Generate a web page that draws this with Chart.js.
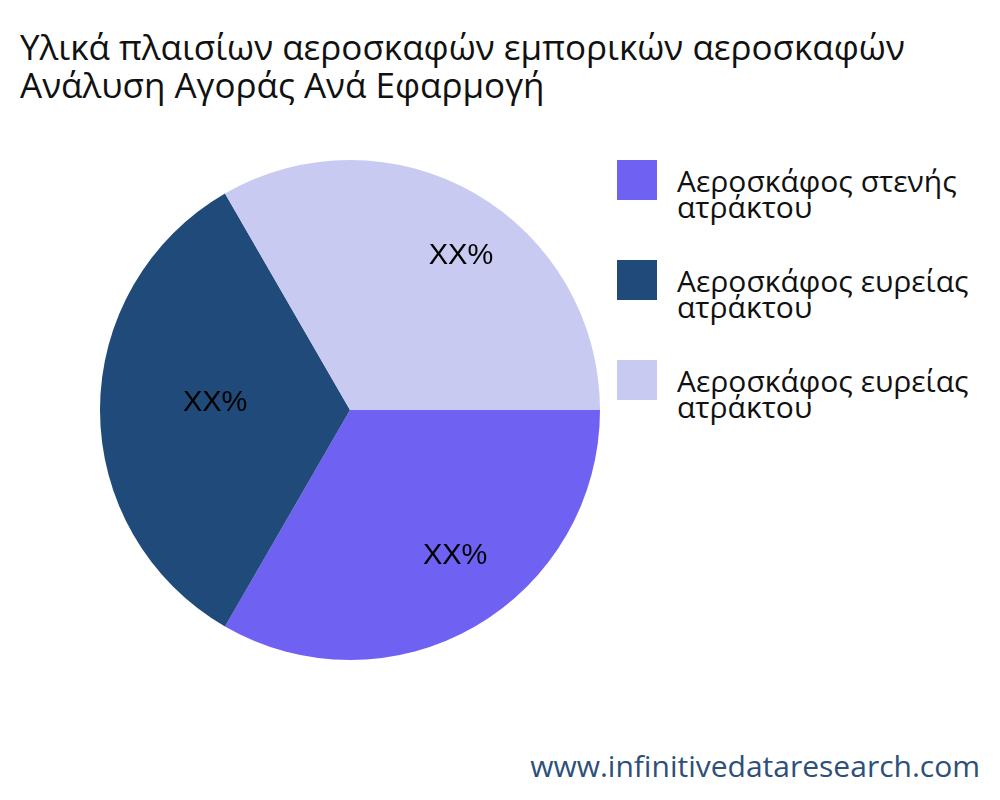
<!DOCTYPE html>
<html>
<head>
<meta charset="utf-8">
<script src="https://cdn.jsdelivr.net/npm/chart.js@4"></script>
<style>
  body { margin: 0; width: 1000px; height: 800px; background: #fff; font-family: "Open Sans", "Noto Sans", sans-serif; position: relative; overflow: hidden; }
  .title { position: absolute; left: 20px; top: 28px; font-size: 35px; line-height: 38px; color: #111; white-space: nowrap; }
  .chart { position: absolute; left: 98px; top: 158px; width: 504px; height: 504px; }
  .legend { position: absolute; left: 617px; top: 160px; }
  .item { display: flex; margin-bottom: 60px; height: 40px; }
  .box { width: 40px; height: 40px; flex: none; margin-right: 20px; }
  .lbl { font-size: 30px; line-height: 26px; color: #111; width: 340px; padding-top: 8px; white-space: nowrap; }
  .wm { position: absolute; right: 20px; bottom: 14px; font-size: 30px; color: #2d5078; }
</style>
</head>
<body>
<div class="title">Υλικά πλαισίων αεροσκαφών εμπορικών αεροσκαφών<br>Ανάλυση Αγοράς Ανά Εφαρμογή</div>
<div class="chart"><canvas id="pie"></canvas></div>
<div class="legend" id="legend"></div>
<div class="wm">www.infinitivedataresearch.com</div>
<script>
const categories = ['Αεροσκάφος στενής<br>ατράκτου', 'Αεροσκάφος ευρείας<br>ατράκτου', 'Αεροσκάφος ευρείας<br>ατράκτου'];
const values = [33.3, 33.3, 33.3];
const labels = ['XX%', 'XX%', 'XX%'];
const colors = ['#6f61f2', '#1f4a7a', '#c8caf2'];
const labelRadius = [0.72, 0.54, 0.76];

const legend = document.getElementById('legend');
categories.forEach((c, i) => {
  legend.innerHTML += `<div class="item"><div class="box" style="background:${colors[i]}"></div><div class="lbl">${c}</div></div>`;
});

const sliceLabels = {
  id: 'sliceLabels',
  afterDatasetsDraw(chart) {
    const ctx = chart.ctx;
    ctx.save();
    ctx.font = '29px "Liberation Sans", Arial, sans-serif';
    ctx.fillStyle = '#000';
    ctx.textAlign = 'center';
    ctx.textBaseline = 'middle';
    chart.getDatasetMeta(0).data.forEach((arc, i) => {
      const p = arc.getProps(['x', 'y', 'startAngle', 'endAngle', 'outerRadius']);
      const a = (p.startAngle + p.endAngle) / 2 + (i === 0 ? -0.1 : i === 2 ? 0.1 : 0.05);
      const r = p.outerRadius * labelRadius[i];
      ctx.fillText(labels[i], p.x + Math.cos(a) * r, p.y + Math.sin(a) * r);
    });
    ctx.restore();
  }
};

new Chart(document.getElementById('pie'), {
  type: 'pie',
  data: { labels: categories, datasets: [{ data: values, backgroundColor: colors, borderWidth: 0 }] },
  options: {
    responsive: true,
    maintainAspectRatio: false,
    animation: false,
    rotation: 90,
    layout: { padding: 2 },
    plugins: { legend: { display: false }, tooltip: { enabled: false } }
  },
  plugins: [sliceLabels]
});
</script>
</body>
</html>
